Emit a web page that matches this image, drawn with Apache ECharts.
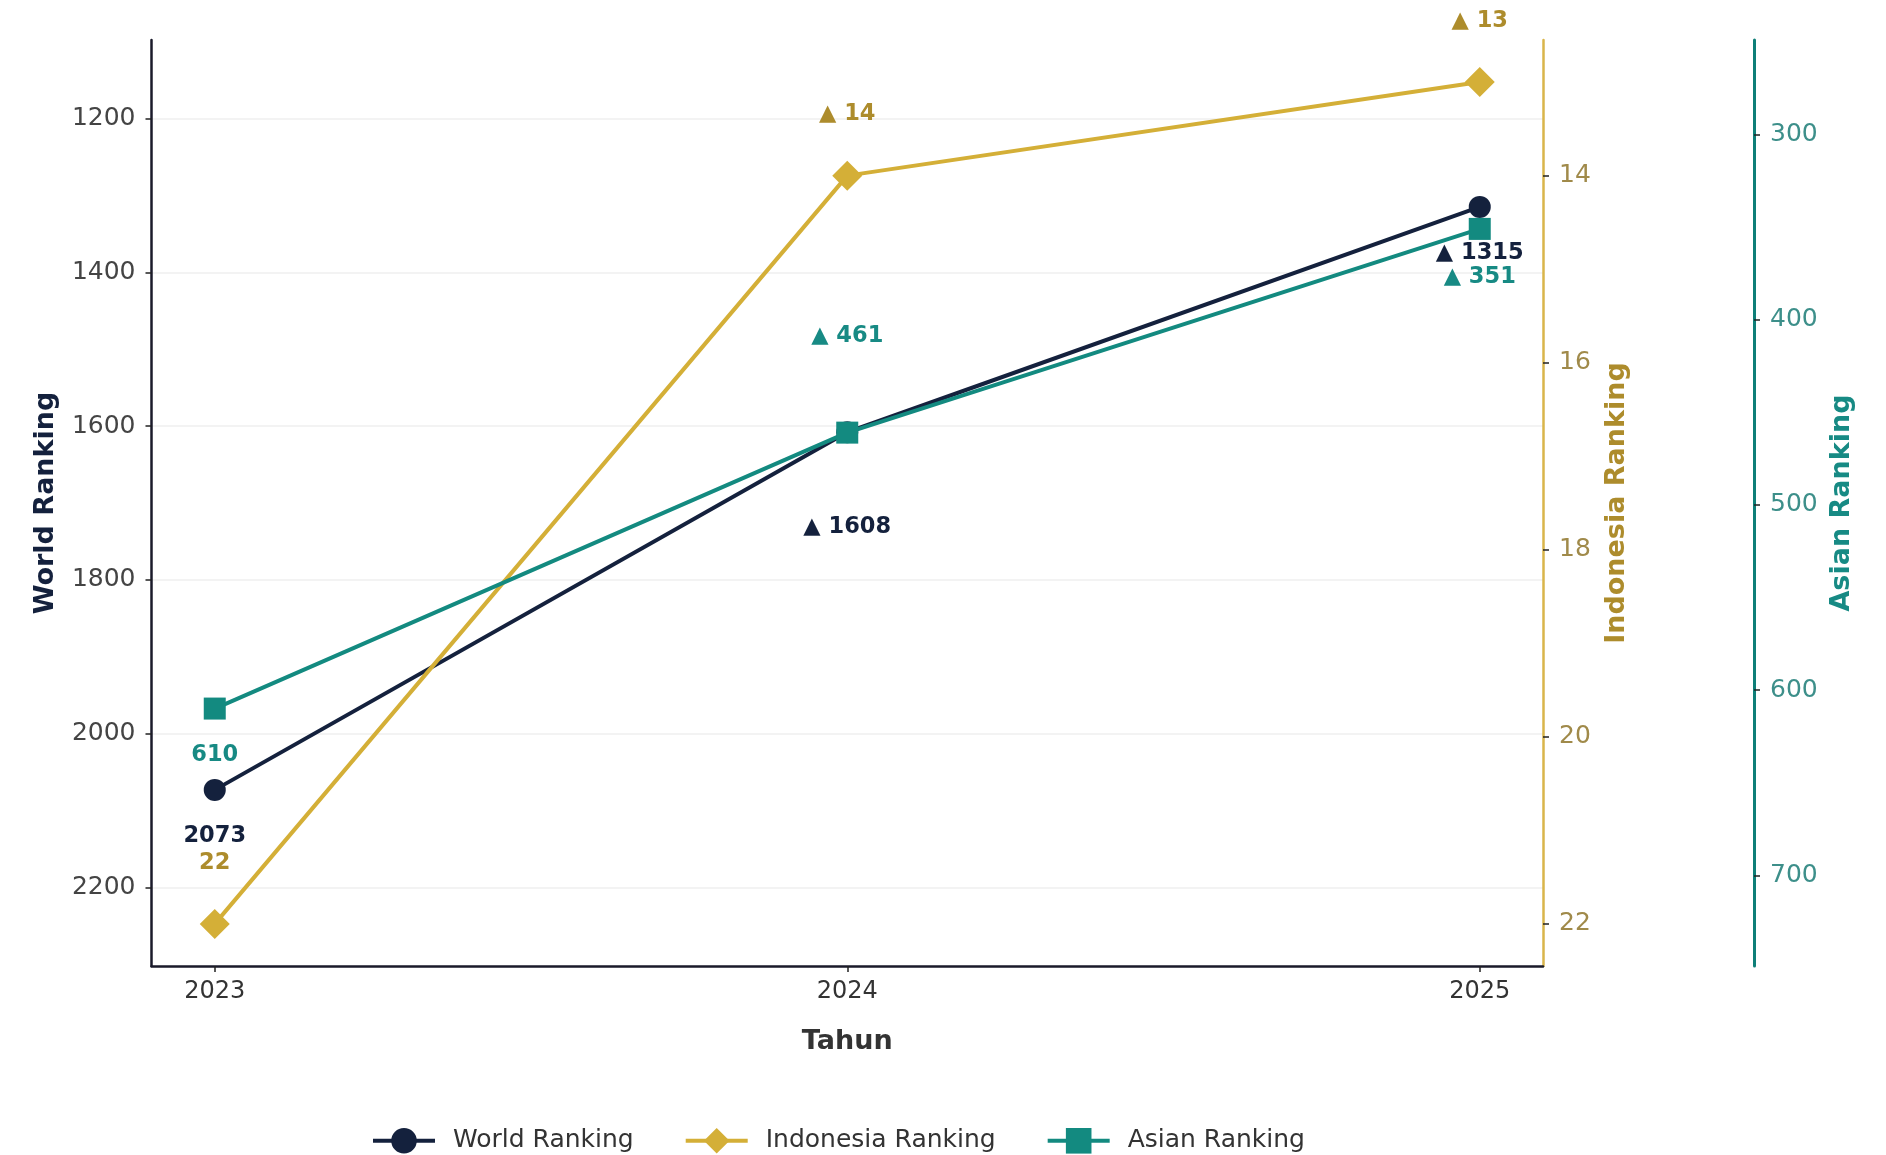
<!DOCTYPE html>
<html><head><meta charset="utf-8">
<script src="https://cdn.jsdelivr.net/npm/echarts@6/dist/echarts.min.js"></script>
<style>html,body{margin:0;padding:0;background:#fff}#c{width:1886px;height:1155px}</style>
</head><body><div id="c"></div>
<script>
// ---- data ----
const years = [2023, 2024, 2025];
const worldRanking = [2073, 1608, 1315];
const indonesiaRanking = [22, 14, 13];
const asianRanking = [610, 461, 351];
const seriesNames = ['World Ranking', 'Indonesia Ranking', 'Asian Ranking'];
const xAxisTitle = 'Tahun';
const worldTicks = [1200, 1400, 1600, 1800, 2000, 2200];
const indonesiaTicks = [14, 16, 18, 20, 22];
const asianTicks = [300, 400, 500, 600, 700];

// ---- styling / layout ----
const FONT = 'DejaVu Sans';
const C_WORLD = '#14213d', C_INDO = '#d4af37', C_ASIA = '#138a80';
const C_INDO_TXT = '#ad8c2c', C_ASIA_TXT = '#178a84';
const worldOffsets = [46, 95, 46];
const indoOffsets = [-61, -61, -61];
const asiaOffsets = [47, -96, 48];

function labelText(arr) {
  return function (p) {
    const i = p.dataIndex, v = arr[i];
    if (i === 0) return String(v);
    return (v < arr[i - 1] ? '\u25B2 ' : '\u25BC ') + v;
  };
}
function build(arr, offs) {
  return years.map((y, i) => ({ value: [y, arr[i]], label: { offset: [0, offs[i]] } }));
}

const chart = echarts.init(document.getElementById('c'), null, { renderer: 'canvas' });
const yBase = (color, lineColor, lw, ticks, name, nameColor) => ({
  type: 'value', inverse: true, name: name, nameLocation: 'middle',
  nameTextStyle: { fontFamily: FONT, fontSize: 27, fontWeight: 'bold', color: nameColor },
  axisLine: { show: true, lineStyle: { color: lineColor, width: lw } },
  axisTick: { show: true, length: 6, customValues: ticks, lineStyle: { color: '#222', width: 1.5 } },
  axisLabel: { customValues: ticks, fontFamily: FONT, fontSize: 25, color: color, margin: 16,
    formatter: v => String(v) },
  splitLine: { show: false }
});

const y0 = Object.assign(yBase('#444', '#1a1a2a', 2.5, worldTicks, 'World Ranking', C_WORLD),
  { position: 'left', min: 1098, max: 2302, splitNumber: 6, nameGap: 92,
    splitLine: { show: true, lineStyle: { color: '#efefef', width: 1.5 } } });
const y1 = Object.assign(yBase('#a08a4a', '#d9b54a', 2.5, indonesiaTicks, 'Indonesia Ranking', C_INDO_TXT),
  { position: 'right', offset: 0, min: 12.55, max: 22.45, nameGap: 60 });
const y2 = Object.assign(yBase('#3d8f8a', '#0f7f78', 3, asianTicks, 'Asian Ranking', C_ASIA_TXT),
  { position: 'right', offset: 211, min: 249, max: 749, nameGap: 72 });

const mkSeries = (name, arr, offs, yi, color, txtColor, symbol, size) => ({
  name: name, type: 'line', yAxisIndex: yi, data: build(arr, offs),
  symbol: symbol, symbolSize: size, showSymbol: true,
  lineStyle: { color: color, width: 4 }, itemStyle: { color: color },
  label: { show: true, position: 'inside', formatter: labelText(arr),
    fontFamily: FONT, fontSize: 22.5, fontWeight: 'bold', color: txtColor },
  emphasis: { disabled: true }
});

chart.setOption({
  animation: false,
  backgroundColor: '#ffffff',
  textStyle: { fontFamily: FONT },
  grid: { left: 151.5, right: 343, top: 40, bottom: 189 },
  legend: {
    left: 366, top: 1123, itemWidth: 62, itemHeight: 32, itemGap: 50,
    data: seriesNames,
    lineStyle: { width: 4 },
    textStyle: { fontFamily: FONT, fontSize: 25, color: '#333', padding: [0, 0, 0, 13] }
  },
  xAxis: {
    type: 'value', min: 2022.9, max: 2025.1,
    name: xAxisTitle, nameLocation: 'middle', nameGap: 62,
    nameTextStyle: { fontFamily: FONT, fontSize: 27, fontWeight: 'bold', color: '#333' },
    axisLine: { show: true, lineStyle: { color: '#1a1a2a', width: 2.5 } },
    axisTick: { show: true, length: 6, customValues: years, lineStyle: { color: '#222', width: 1.5 } },
    axisLabel: { customValues: years, fontFamily: FONT, fontSize: 24, color: '#333', margin: 14,
      formatter: v => String(v) },
    splitLine: { show: false }
  },
  yAxis: [y0, y1, y2],
  series: [
    mkSeries(seriesNames[0], worldRanking, worldOffsets, 0, C_WORLD, C_WORLD, 'circle', 22),
    mkSeries(seriesNames[1], indonesiaRanking, indoOffsets, 1, C_INDO, C_INDO_TXT, 'diamond', 30),
    mkSeries(seriesNames[2], asianRanking, asiaOffsets, 2, C_ASIA, C_ASIA_TXT, 'rect', 22)
  ]
});
</script></body></html>
